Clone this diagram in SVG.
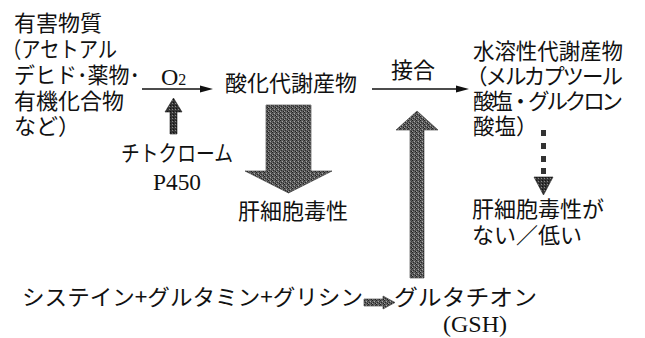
<svg xmlns="http://www.w3.org/2000/svg" width="645" height="338" viewBox="0 0 645 338">
<style>
.jp{font-family:"Noto Sans CJK JP","Noto Sans CJK SC",sans-serif;font-size:22px;fill:#111;}
.rt{font-size:21.5px;}
.lat{font-family:"Liberation Serif",serif;font-size:24px;fill:#111;}
.ln{stroke:#111;stroke-width:1.3;fill:none;}
.hd{fill:#111;stroke:none;}
.gray{fill:url(#grain);stroke:#333;stroke-width:0.6;}
.dark{fill:url(#grainDark);stroke:#222;stroke-width:0.6;}
.dot{fill:#333;}
</style>
<defs>
<pattern id="grain" width="4" height="4" patternUnits="userSpaceOnUse">
<rect width="4" height="4" fill="#5e5e5e"/>
<rect x="0" y="0" width="1" height="1" fill="#222"/>
<rect x="2" y="1" width="1" height="1" fill="#a8a8a8"/>
<rect x="1" y="2" width="1" height="1" fill="#2a2a2a"/>
<rect x="3" y="3" width="1" height="1" fill="#1e1e1e"/>
<rect x="3" y="1" width="1" height="1" fill="#3a3a3a"/>
<rect x="0" y="3" width="1" height="1" fill="#999"/>
</pattern>
<pattern id="grainDark" width="3" height="3" patternUnits="userSpaceOnUse">
<rect width="3" height="3" fill="#363636"/>
<rect x="1" y="1" width="1" height="1" fill="#888"/>
<rect x="2" y="0" width="1" height="1" fill="#111"/>
</pattern>
</defs>

<g id="harmful">
<text class="jp" x="14" y="31">有害物質</text>
<text class="jp" x="2" y="57" textLength="115" lengthAdjust="spacingAndGlyphs">（アセトアル</text>
<text class="jp" x="14" y="83" textLength="126" lengthAdjust="spacingAndGlyphs">デヒド･薬物･</text>
<text class="jp" x="14" y="109">有機化合物</text>
<text class="jp" x="14" y="134">など）</text>
</g>

<g id="o2">
<text class="lat" x="161" y="85" font-size="26">O<tspan font-size="16">2</tspan></text>
</g>

<g id="cyp">
<text class="jp" x="121" y="161" font-size="21" textLength="112" lengthAdjust="spacingAndGlyphs">チトクローム</text>
<text class="lat" x="153" y="190" textLength="48" lengthAdjust="spacingAndGlyphs">P450</text>
</g>

<g id="oxidized">
<text class="jp" x="225" y="91">酸化代謝産物</text>
</g>

<g id="toxic">
<text class="jp" x="238" y="219">肝細胞毒性</text>
</g>

<g id="conj">
<text class="jp" x="391" y="78" font-size="23">接合</text>
</g>

<g id="soluble">
<text class="jp rt" x="473" y="59" textLength="150">水溶性代謝産物</text>
<text class="jp rt" x="466" y="84" textLength="157">（メルカプツール</text>
<text class="jp rt" x="473" y="109" textLength="150">酸塩・グルクロン</text>
<text class="jp rt" x="473" y="134">酸塩）</text>
</g>

<g id="lowtox">
<text class="jp" x="472" y="217">肝細胞毒性が</text>
<text class="jp" x="472" y="243">ない／低い</text>
</g>

<g id="aminoacids">
<text class="jp" x="22" y="305" font-size="23" textLength="341" lengthAdjust="spacingAndGlyphs">システイン+グルタミン+グリシン</text>
</g>

<g id="gsh">
<text class="jp" x="394" y="305" font-size="23" textLength="143" lengthAdjust="spacingAndGlyphs">グルタチオン</text>
<text class="lat" x="443" y="332">(GSH)</text>
</g>

<g id="connectors">
<line class="ln" x1="142" y1="89" x2="203" y2="89"/>
<polygon class="hd" points="200,85.5 213,89 200,92.5"/>
<polygon class="dark" points="170,134 170,112 165,112 173.5,98 182,112 177,112 177,134"/>
<polygon class="gray" points="266,105 311,105 311,171 332,171 288.5,193 245,171 266,171"/>
<line class="ln" x1="372" y1="89" x2="459" y2="89"/>
<polygon class="hd" points="456,85.5 469,89 456,92.5"/>
<polygon class="gray" points="410,278 410,130 396,130 417,111 438,130 424,130 424,278"/>
<polygon class="gray" points="364,299 383,299 383,296 395,302.5 383,309 383,306 364,306"/>
<rect class="dot" x="541" y="130" width="5" height="6"/>
<rect class="dot" x="541" y="143" width="5" height="6"/>
<rect class="dot" x="541" y="156" width="5" height="6"/>
<rect class="dot" x="541" y="168" width="5" height="6"/>
<polygon class="dark" points="534,177 553,177 543.5,195"/>
</g>
</svg>
